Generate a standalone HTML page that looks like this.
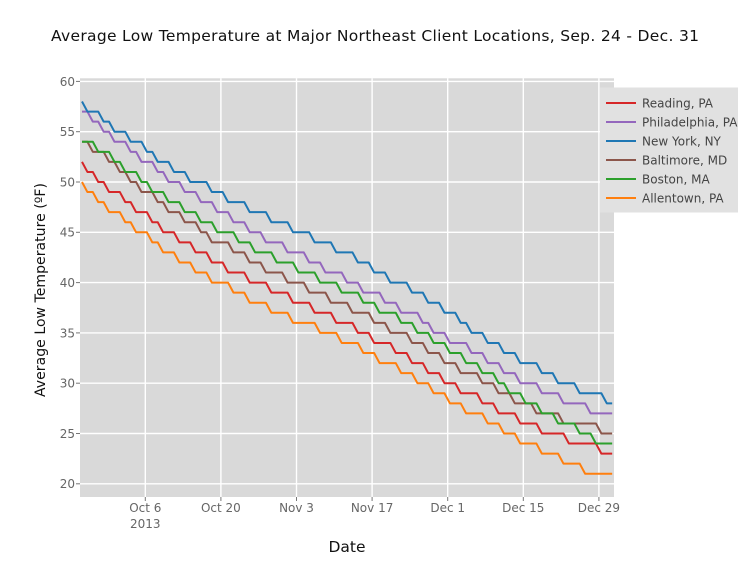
<!DOCTYPE html>
<html>
<head>
<meta charset="utf-8">
<style>
  html, body { margin: 0; padding: 0; background: #ffffff; }
  svg { display: block; }
  text { font-family: "DejaVu Sans", "Liberation Sans", sans-serif; }
</style>
</head>
<body>
<svg width="750" height="575" viewBox="0 0 750 575" xmlns="http://www.w3.org/2000/svg">
  <rect x="0" y="0" width="750" height="575" fill="#ffffff"/>

  <!-- Title -->
  <text x="375" y="41" font-size="15.5" fill="#111" text-anchor="middle" textLength="648" lengthAdjust="spacing">Average Low Temperature at Major Northeast Client Locations, Sep. 24 - Dec. 31</text>

  <!-- Plot background -->
  <rect x="80" y="78.3" width="534" height="418.7" fill="#d9d9d9"/>

  <!-- Horizontal gridlines -->
  <g stroke="#ffffff" stroke-width="1.4">
    <line x1="80" x2="614" y1="483.8" y2="483.8"/>
    <line x1="80" x2="614" y1="433.5" y2="433.5"/>
    <line x1="80" x2="614" y1="383.2" y2="383.2"/>
    <line x1="80" x2="614" y1="332.9" y2="332.9"/>
    <line x1="80" x2="614" y1="282.6" y2="282.6"/>
    <line x1="80" x2="614" y1="232.3" y2="232.3"/>
    <line x1="80" x2="614" y1="182" y2="182"/>
    <line x1="80" x2="614" y1="131.7" y2="131.7"/>
    <line x1="80" x2="614" y1="81.4" y2="81.4"/>
  </g>
  <!-- Vertical gridlines -->
  <g stroke="#ffffff" stroke-width="1.4">
    <line x1="145.3" x2="145.3" y1="78.3" y2="497"/>
    <line x1="220.9" x2="220.9" y1="78.3" y2="497"/>
    <line x1="296.5" x2="296.5" y1="78.3" y2="497"/>
    <line x1="372.1" x2="372.1" y1="78.3" y2="497"/>
    <line x1="447.7" x2="447.7" y1="78.3" y2="497"/>
    <line x1="523.3" x2="523.3" y1="78.3" y2="497"/>
    <line x1="598.9" x2="598.9" y1="78.3" y2="497"/>
  </g>

  <!-- Y ticks -->
  <g stroke="#777" stroke-width="1">
    <line x1="76" x2="80" y1="483.8" y2="483.8"/>
    <line x1="76" x2="80" y1="433.5" y2="433.5"/>
    <line x1="76" x2="80" y1="383.2" y2="383.2"/>
    <line x1="76" x2="80" y1="332.9" y2="332.9"/>
    <line x1="76" x2="80" y1="282.6" y2="282.6"/>
    <line x1="76" x2="80" y1="232.3" y2="232.3"/>
    <line x1="76" x2="80" y1="182" y2="182"/>
    <line x1="76" x2="80" y1="131.7" y2="131.7"/>
    <line x1="76" x2="80" y1="81.4" y2="81.4"/>
  </g>
  <g font-size="12" fill="#666" text-anchor="end">
    <text x="75" y="488.2">20</text>
    <text x="75" y="437.9">25</text>
    <text x="75" y="387.6">30</text>
    <text x="75" y="337.3">35</text>
    <text x="75" y="287">40</text>
    <text x="75" y="236.7">45</text>
    <text x="75" y="186.4">50</text>
    <text x="75" y="136.1">55</text>
    <text x="75" y="85.8">60</text>
  </g>

  <!-- X ticks -->
  <g stroke="#777" stroke-width="1">
    <line x1="145.3" x2="145.3" y1="497" y2="501"/>
    <line x1="220.9" x2="220.9" y1="497" y2="501"/>
    <line x1="296.5" x2="296.5" y1="497" y2="501"/>
    <line x1="372.1" x2="372.1" y1="497" y2="501"/>
    <line x1="447.7" x2="447.7" y1="497" y2="501"/>
    <line x1="523.3" x2="523.3" y1="497" y2="501"/>
    <line x1="598.9" x2="598.9" y1="497" y2="501"/>
  </g>
  <g font-size="12" fill="#666" text-anchor="middle">
    <text x="145.3" y="512">Oct 6</text>
    <text x="145.3" y="528">2013</text>
    <text x="220.9" y="512">Oct 20</text>
    <text x="296.5" y="512">Nov 3</text>
    <text x="372.1" y="512">Nov 17</text>
    <text x="447.7" y="512">Dec 1</text>
    <text x="523.3" y="512">Dec 15</text>
    <text x="598.9" y="512">Dec 29</text>
  </g>

  <!-- Axis titles -->
  <text x="347" y="552" font-size="15.5" fill="#111" text-anchor="middle">Date</text>
  <text transform="translate(45,290) rotate(-90)" x="0" y="0" font-size="14" fill="#111" text-anchor="middle" textLength="214" lengthAdjust="spacing">Average Low Temperature (ºF)</text>

  <!-- Series: coordinates in (day, value) -->
  <g transform="matrix(5.41 0 0 -10.06 82 685)" fill="none" stroke-width="2" stroke-linejoin="round">
    <!-- Reading -->
    <polyline vector-effect="non-scaling-stroke" stroke="#d62728" points="0,52 1,51 2,51 3,50 4,50 5,49 7,49 8,48 9,48 10,47 12,47 13,46 14,46 15,45 17,45 18,44 20,44 21,43 23,43 24,42 26,42 27,41 30,41 31,40 34,40 35,39 38,39 39,38 42,38 43,37 46,37 47,36 50,36 51,35 53,35 54,34 57,34 58,33 60,33 61,32 63,32 64,31 66,31 67,30 69,30 70,29 73,29 74,28 76,28 77,27 80,27 81,26 84,26 85,25 89,25 90,24 95,24 96,23 98,23"/>
    <!-- Philadelphia -->
    <polyline vector-effect="non-scaling-stroke" stroke="#9467bd" points="0,57 1,57 2,56 3,56 4,55 5,55 6,54 8,54 9,53 10,53 11,52 13,52 14,51 15,51 16,50 18,50 19,49 21,49 22,48 24,48 25,47 27,47 28,46 30,46 31,45 33,45 34,44 37,44 38,43 41,43 42,42 44,42 45,41 48,41 49,40 51,40 52,39 55,39 56,38 58,38 59,37 62,37 63,36 64,36 65,35 67,35 68,34 71,34 72,33 74,33 75,32 77,32 78,31 80,31 81,30 84,30 85,29 88,29 89,28 93,28 94,27 98,27"/>
    <!-- New York -->
    <polyline vector-effect="non-scaling-stroke" stroke="#1f77b4" points="0,58 1,57 3,57 4,56 5,56 6,55 8,55 9,54 11,54 12,53 13,53 14,52 16,52 17,51 19,51 20,50 23,50 24,49 26,49 27,48 30,48 31,47 34,47 35,46 38,46 39,45 42,45 43,44 46,44 47,43 50,43 51,42 53,42 54,41 56,41 57,40 60,40 61,39 63,39 64,38 66,38 67,37 69,37 70,36 71,36 72,35 74,35 75,34 77,34 78,33 80,33 81,32 84,32 85,31 87,31 88,30 91,30 92,29 96,29 97,28 98,28"/>
    <!-- Baltimore -->
    <polyline vector-effect="non-scaling-stroke" stroke="#8c564b" points="0,54 1,54 2,53 4,53 5,52 6,52 7,51 8,51 9,50 10,50 11,49 13,49 14,48 15,48 16,47 18,47 19,46 21,46 22,45 23,45 24,44 27,44 28,43 30,43 31,42 33,42 34,41 37,41 38,40 41,40 42,39 45,39 46,38 49,38 50,37 53,37 54,36 56,36 57,35 60,35 61,34 63,34 64,33 66,33 67,32 69,32 70,31 73,31 74,30 76,30 77,29 79,29 80,28 83,28 84,27 88,27 89,26 95,26 96,25 98,25"/>
    <!-- Boston -->
    <polyline vector-effect="non-scaling-stroke" stroke="#2ca02c" points="0,54 2,54 3,53 5,53 6,52 7,52 8,51 10,51 11,50 12,50 13,49 15,49 16,48 18,48 19,47 21,47 22,46 24,46 25,45 28,45 29,44 31,44 32,43 35,43 36,42 39,42 40,41 43,41 44,40 47,40 48,39 51,39 52,38 54,38 55,37 58,37 59,36 61,36 62,35 64,35 65,34 67,34 68,33 70,33 71,32 73,32 74,31 76,31 77,30 78,30 79,29 81,29 82,28 84,28 85,27 87,27 88,26 91,26 92,25 94,25 95,24 98,24"/>
    <!-- Allentown -->
    <polyline vector-effect="non-scaling-stroke" stroke="#ff7f0e" points="0,50 1,49 2,49 3,48 4,48 5,47 7,47 8,46 9,46 10,45 12,45 13,44 14,44 15,43 17,43 18,42 20,42 21,41 23,41 24,40 27,40 28,39 30,39 31,38 34,38 35,37 38,37 39,36 43,36 44,35 47,35 48,34 51,34 52,33 54,33 55,32 58,32 59,31 61,31 62,30 64,30 65,29 67,29 68,28 70,28 71,27 74,27 75,26 77,26 78,25 80,25 81,24 84,24 85,23 88,23 89,22 92,22 93,21 98,21"/>
  </g>

  <!-- Legend -->
  <rect x="600" y="87.5" width="138" height="125" fill="#e1e1e1"/>
  <g stroke-width="2">
    <line x1="606" x2="636" y1="103" y2="103" stroke="#d62728"/>
    <line x1="606" x2="636" y1="122" y2="122" stroke="#9467bd"/>
    <line x1="606" x2="636" y1="141" y2="141" stroke="#1f77b4"/>
    <line x1="606" x2="636" y1="160" y2="160" stroke="#8c564b"/>
    <line x1="606" x2="636" y1="179" y2="179" stroke="#2ca02c"/>
    <line x1="606" x2="636" y1="198" y2="198" stroke="#ff7f0e"/>
  </g>
  <g font-size="12" fill="#444">
    <text x="642" y="107.3">Reading, PA</text>
    <text x="642" y="126.3">Philadelphia, PA</text>
    <text x="642" y="145.3">New York, NY</text>
    <text x="642" y="164.3">Baltimore, MD</text>
    <text x="642" y="183.3">Boston, MA</text>
    <text x="642" y="202.3">Allentown, PA</text>
  </g>
</svg>
</body>
</html>
